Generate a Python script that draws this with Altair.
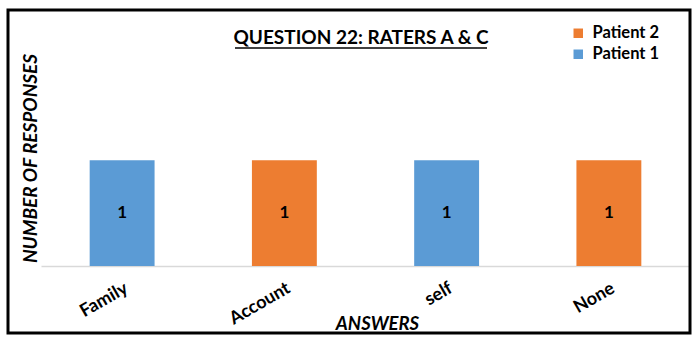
import altair as alt
import pandas as pd

answers = ["Family", "Account", "self", "None"]
patients = ["Patient 1", "Patient 2", "Patient 1", "Patient 2"]
responses = [1, 1, 1, 1]

legend_order = ["Patient 2", "Patient 1"]
colors = ["#ED7D31", "#5B9BD5"]
title_text = "QUESTION 22: RATERS A & C"

df = pd.DataFrame({"answer": answers, "patient": patients, "n": responses})

FONT = "Lato"
W, H = 649, 127

x_enc = alt.X("answer:N", sort=answers,
              scale=alt.Scale(paddingInner=0.6, paddingOuter=0.3),
              axis=alt.Axis(title="ANSWERS", labelAngle=330, labelFont=FONT,
                            labelFontSize=18, labelFontWeight="bold", labelColor="#000",
                            labelPadding=13, ticks=False, domainColor="#d9d9d9",
                            domainWidth=1.5, grid=False, titleFont=FONT, titleFontSize=18.5,
                            titleFontWeight="bold", titleFontStyle="italic",
                            titleColor="#000", titleX=336, titleY=63,
                            titleBaseline="alphabetic"))

bars = alt.Chart(df).mark_bar().encode(
    x=x_enc,
    y=alt.Y("n:Q", scale=alt.Scale(domain=[0, 1.2]),
            axis=alt.Axis(title="NUMBER OF RESPONSES", labels=False, ticks=False,
                          domain=False, grid=False, titleFont=FONT, titleFontSize=19,
                          titleFontWeight="bold", titleFontStyle="italic",
                          titleColor="#000", titleX=-11, titleY=19,
                          titleAngle=270, titleBaseline="middle", titleAlign="center")),
    color=alt.Color("patient:N", scale=alt.Scale(domain=legend_order, range=colors),
                    legend=alt.Legend(title=None, orient="none", legendX=529, legendY=-114,
                                      symbolType="square", symbolSize=90,
                                      symbolStrokeWidth=0, labelFont=FONT,
                                      labelFontSize=16.5, labelFontWeight="bold",
                                      labelColor="#000", rowPadding=4, labelOffset=6)),
)

labels = alt.Chart(df).transform_calculate(mid="datum.n / 2").mark_text(
    font=FONT, fontSize=17, fontWeight="bold", color="#000"
).encode(
    x=alt.X("answer:N", sort=answers),
    y=alt.Y("mid:Q"),
    text=alt.Text("n:Q"),
)

deco = pd.DataFrame({"k": [0]})

title = alt.Chart(deco).mark_text(
    text=title_text, font=FONT, fontSize=19, fontWeight="bold", color="#000",
    align="center", baseline="alphabetic"
).encode(x=alt.value(320), y=alt.value(-95))

underline = alt.Chart(deco).mark_rule(color="#000", strokeWidth=1.5).encode(
    x=alt.value(194), x2=alt.value(446), y=alt.value(-91)
)

border = alt.Chart(deco).mark_rect(fill=None, stroke="#000", strokeWidth=3).encode(
    x=alt.value(-33), x2=alt.value(649), y=alt.value(-129), y2=alt.value(194)
)

chart = alt.layer(bars, labels, title, underline, border).properties(
    width=W, height=H,
    background="white",
    autosize=alt.AutoSizeParams(type="none"),
    padding={"left": 41, "top": 139, "right": 10, "bottom": 78},
).configure_view(stroke=None)

chart.save("out.html", embed_options={"renderer": "svg", "actions": False})
